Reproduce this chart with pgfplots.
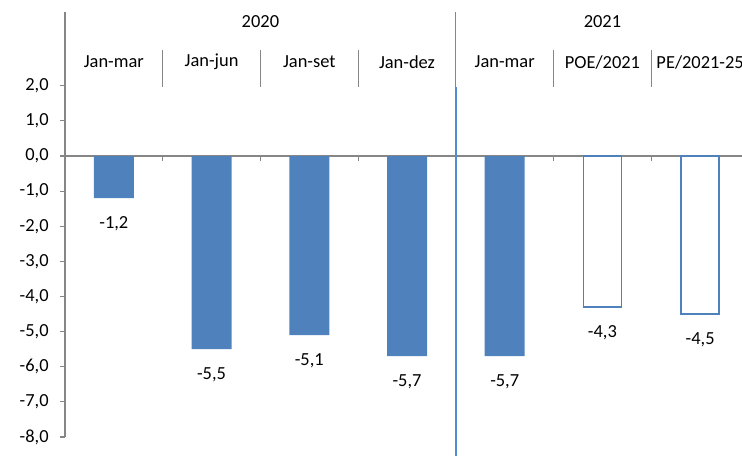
\documentclass[border=0pt]{standalone}
\usepackage{fontspec}
\setmainfont{Carlito}
\usepackage{pgfplots}
\pgfplotsset{compat=1.18}
\definecolor{barblue}{RGB}{79,129,189}
\definecolor{lineblue}{RGB}{79,140,210}
\definecolor{axgray}{RGB}{134,134,134}
\begin{document}
\fontsize{18.5}{22}\selectfont
\begin{tikzpicture}
\pgfkeys{/pgf/number format/.cd, fixed, fixed zerofill, precision=1, use comma, assume math mode=true}
\begin{axis}[
    name=ax,
    scale only axis,
    width=684bp, height=425bp,
    xmin=-0.5, xmax=6.5,
    ymin=-8, ymax=4.1,
    axis y line*=left,
    axis x line*=top,
    x axis line style={draw=none},
    y axis line style={axgray, line width=1.2pt, -},
    ytick={-8,-7,...,2},
    major y tick style={axgray, line width=1.2pt},
    major x tick style={draw=none},
    tick align=outside,
    major tick length=5bp,
    xtick={0,...,6},
    xticklabels={Jan-mar,Jan-jun,Jan-set,Jan-dez,Jan-mar,POE/2021,PE/2021-25},
    xticklabel style={anchor=center, yshift=-55bp, font=\fontsize{18.5}{22}\selectfont},
    yticklabel style={font=\fontsize{18.5}{22}\selectfont, xshift=-5bp},
    clip=false,
    nodes near coords,
    every node near coord/.append style={anchor=center, yshift=-26bp, font=\fontsize{18.5}{22}\selectfont, text=black},
]
% zero line and boundary ticks
\draw[axgray, line width=1.2pt] (axis cs:-0.5,0) -- (axis cs:6.5,0);
\pgfplotsinvokeforeach{0.5,1.5,2.5,3.5,4.5,5.5}{
  \draw[axgray, line width=1.2pt] (axis cs:#1,0) -- ([yshift=-5bp]axis cs:#1,0);
}
\addplot[ybar, bar width=40bp, bar shift=0pt, fill=barblue, draw=none]
  coordinates {(0,-1.2) (1,-5.5) (2,-5.1) (3,-5.7) (4,-5.7)};
\addplot[ybar, bar width=38bp, bar shift=0pt, fill=white, draw=barblue, line width=1.5pt]
  coordinates {(5,-4.3) (6,-4.5)};
% header separators
\pgfplotsinvokeforeach{0.5,1.5,2.5,4.5,5.5}{
  \draw[axgray, line width=1.2pt] (axis cs:#1,1.97) -- (axis cs:#1,3.02);
}
\draw[axgray, line width=1.2pt] (axis cs:3.5,1.97) -- (axis cs:3.5,4.1);
\draw[lineblue, line width=1.4pt] (axis cs:3.5,1.97) -- (axis cs:3.5,-8.8);
\node at (axis cs:1.5,3.82) {2020};
\node at (axis cs:5,3.82) {2021};
\end{axis}
\pgfresetboundingbox
\path[use as bounding box] ([xshift=-65bp,yshift=-19bp]ax.south west) rectangle ([xshift=-7bp,yshift=12bp]ax.north east);
\end{tikzpicture}
\end{document}
